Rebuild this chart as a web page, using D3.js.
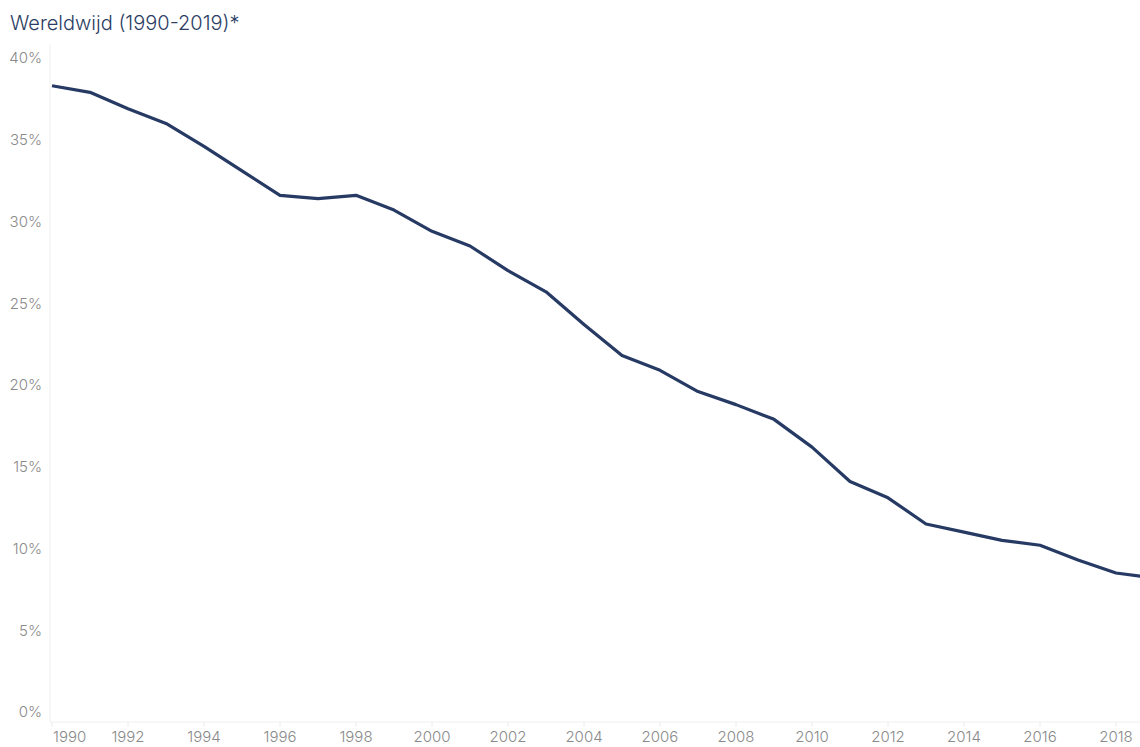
<!DOCTYPE html>
<html>
<head>
<meta charset="utf-8">
<script src="https://cdn.jsdelivr.net/npm/d3@7"></script>
<style>
  body { margin: 0; background: #fff; }
  svg { display: block; font-family: Inter, "Open Sans", sans-serif; }
</style>
</head>
<body>
<svg></svg>
<script>
var width = 1140;
var height = 747;

var years = [1990, 1991, 1992, 1993, 1994, 1995, 1996, 1997, 1998, 1999,
             2000, 2001, 2002, 2003, 2004, 2005, 2006, 2007, 2008, 2009,
             2010, 2011, 2012, 2013, 2014, 2015, 2016, 2017, 2018, 2019];
var poverty = [38.3, 37.9, 36.9, 36.0, 34.6, 33.1, 31.6, 31.4, 31.6, 30.7,
               29.4, 28.5, 27.0, 25.7, 23.7, 21.8, 20.9, 19.6, 18.8, 17.9,
               16.2, 14.1, 13.1, 11.5, 11.0, 10.5, 10.2, 9.3, 8.5, 8.2];
var yTicks = [0, 5, 10, 15, 20, 25, 30, 35, 40];
var xTicks = [1990, 1992, 1994, 1996, 1998, 2000, 2002, 2004, 2006, 2008,
              2010, 2012, 2014, 2016, 2018];
var title = "Wereldwijd (1990-2019)*";

var svg = d3.select("svg")
    .attr("width", width)
    .attr("height", height);

var x = d3.scaleLinear().domain([1990, 2019]).range([52, 1154]);
var y = d3.scaleLinear().domain([0, 40]).range([712, 58]);

svg.append("text")
    .attr("x", 10)
    .attr("y", 30)
    .attr("fill", "#2b3d63")
    .attr("font-size", 20)
    .attr("font-weight", 300)
    .text(title);

// axis lines
svg.append("line")
    .attr("x1", 50).attr("x2", 50)
    .attr("y1", 44).attr("y2", 722)
    .attr("stroke", "#f0f0f0");
svg.append("line")
    .attr("x1", 50).attr("x2", width)
    .attr("y1", 722).attr("y2", 722)
    .attr("stroke", "#f0f0f0");

// y labels
svg.append("g")
  .selectAll("text")
  .data(yTicks)
  .enter().append("text")
    .attr("x", 42)
    .attr("y", function(d) { return y(d); })
    .attr("dy", "0.35em")
    .attr("text-anchor", "end")
    .attr("fill", "#8a8a8a")
    .attr("font-size", 15)
    .attr("font-weight", 300)
    .text(function(d) { return d + "%"; });

// x ticks + labels
var xg = svg.append("g");
xg.selectAll("line")
  .data(xTicks)
  .enter().append("line")
    .attr("x1", function(d) { return x(d); })
    .attr("x2", function(d) { return x(d); })
    .attr("y1", 722).attr("y2", 727)
    .attr("stroke", "#ececec");
xg.selectAll("text")
  .data(xTicks)
  .enter().append("text")
    .attr("x", function(d, i) { return i === 0 ? x(d) + 1 : x(d); })
    .attr("y", 742)
    .attr("text-anchor", function(d, i) { return i === 0 ? "start" : "middle"; })
    .attr("fill", "#8a8a8a")
    .attr("font-size", 15)
    .attr("font-weight", 300)
    .text(function(d) { return d; });

var line = d3.line()
    .x(function(d, i) { return x(years[i]); })
    .y(function(d) { return y(d); });

svg.append("path")
    .datum(poverty)
    .attr("d", line)
    .attr("fill", "none")
    .attr("stroke", "#263a64")
    .attr("stroke-width", 3.2)
    .attr("stroke-linejoin", "round");
</script>
</body>
</html>
